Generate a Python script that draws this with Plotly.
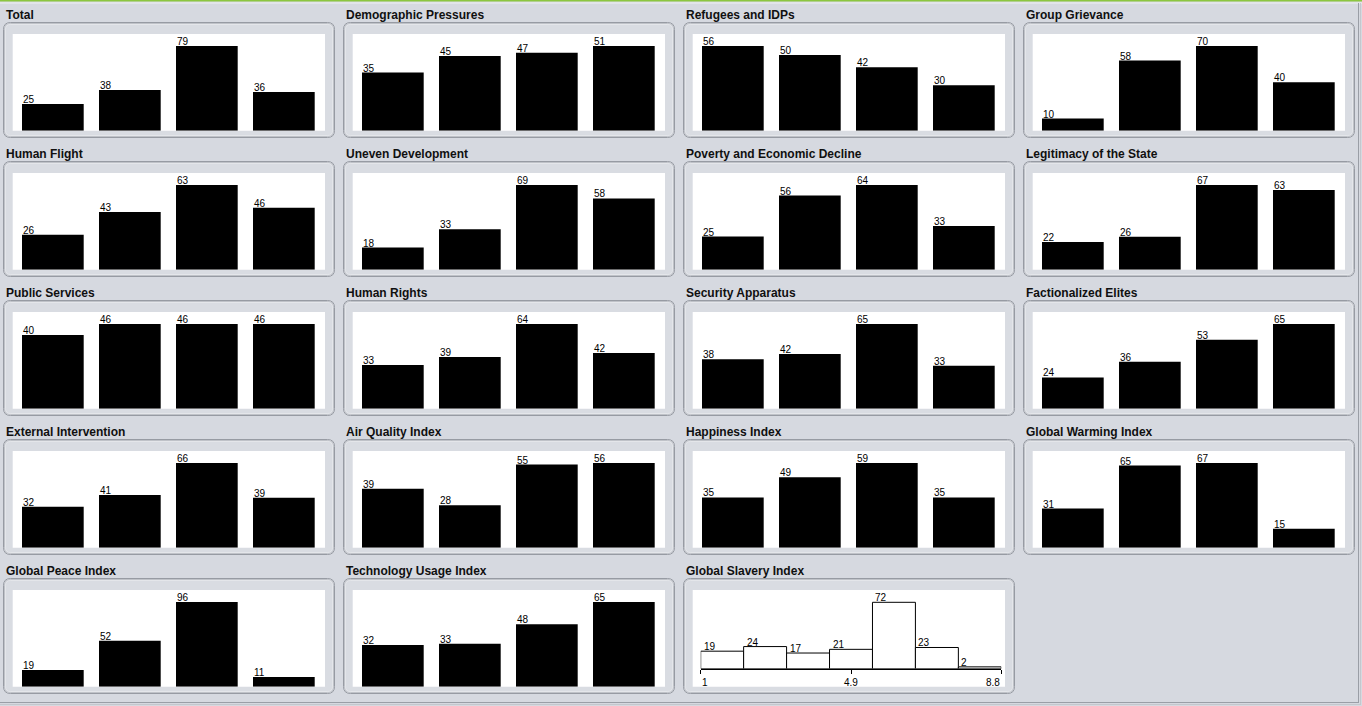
import plotly.graph_objects as go

W, H = 1362, 706

# ---------------- data ----------------
categories = ["A", "B", "C", "D"]
total = [25, 38, 79, 36]
demographic_pressures = [35, 45, 47, 51]
refugees_idps = [56, 50, 42, 30]
group_grievance = [10, 58, 70, 40]
human_flight = [26, 43, 63, 46]
uneven_development = [18, 33, 69, 58]
poverty_decline = [25, 56, 64, 33]
legitimacy_state = [22, 26, 67, 63]
public_services = [40, 46, 46, 46]
human_rights = [33, 39, 64, 42]
security_apparatus = [38, 42, 65, 33]
factionalized_elites = [24, 36, 53, 65]
external_intervention = [32, 41, 66, 39]
air_quality = [39, 28, 55, 56]
happiness = [35, 49, 59, 35]
global_warming = [31, 65, 67, 15]
global_peace = [19, 52, 96, 11]
technology_usage = [32, 33, 48, 65]

bar_titles = ["Total", "Demographic Pressures", "Refugees and IDPs", "Group Grievance",
              "Human Flight", "Uneven Development", "Poverty and Economic Decline",
              "Legitimacy of the State", "Public Services", "Human Rights",
              "Security Apparatus", "Factionalized Elites", "External Intervention",
              "Air Quality Index", "Happiness Index", "Global Warming Index",
              "Global Peace Index", "Technology Usage Index"]
bar_values = [total, demographic_pressures, refugees_idps, group_grievance,
              human_flight, uneven_development, poverty_decline, legitimacy_state,
              public_services, human_rights, security_apparatus, factionalized_elites,
              external_intervention, air_quality, happiness, global_warming,
              global_peace, technology_usage]

hist_title = "Global Slavery Index"
hist_counts = [19, 24, 17, 21, 72, 23, 2]
hist_start, hist_end = 1.0, 8.8
hist_ticks = [1, 4.9, 8.8]
hist_ticktext = ["1", "4.9", "8.8"]

# ---------------- styling ----------------
BG = "#d6d9e0"
NUM_FONT = dict(family="Liberation Sans, Arial, sans-serif", size=10, color="#000000")
TITLE_FONT = dict(family="Liberation Sans, Arial, sans-serif", size=12, color="#101010")


def px(x):
    return x / W


def py(y):
    return 1 - y / H


def rrect_path(x0, y0, x1, y1, r):
    pts = [
        f"M {px(x0 + r)},{py(y0)}",
        f"L {px(x1 - r)},{py(y0)}",
        f"Q {px(x1)},{py(y0)} {px(x1)},{py(y0 + r)}",
        f"L {px(x1)},{py(y1 - r)}",
        f"Q {px(x1)},{py(y1)} {px(x1 - r)},{py(y1)}",
        f"L {px(x0 + r)},{py(y1)}",
        f"Q {px(x0)},{py(y1)} {px(x0)},{py(y1 - r)}",
        f"L {px(x0)},{py(y0 + r)}",
        f"Q {px(x0)},{py(y0)} {px(x0 + r)},{py(y0)}",
        "Z",
    ]
    return " ".join(pts)


fig = go.Figure()
layout = dict(
    width=W, height=H, margin=dict(l=0, r=0, t=0, b=0),
    paper_bgcolor=BG, plot_bgcolor="rgba(0,0,0,0)",
    showlegend=False, shapes=[], annotations=[],
)

BAR_W = 61.7 / 77.0
X_RANGE = [-40.15 / 77.0, -40.15 / 77.0 + 312.3 / 77.0]


def panel_geom(idx):
    r, c = divmod(idx, 4)
    bx0 = 3 + 340 * c
    by0 = 22 + 139 * r
    return r, c, bx0, by0


all_panels = len(bar_titles) + 1
for idx in range(all_panels):
    r, c, bx0, by0 = panel_geom(idx)
    # frame
    layout["shapes"].append(dict(type="path", xref="paper", yref="paper",
                                 path=rrect_path(bx0 + 0.5, by0 + 0.5, bx0 + 331.5, by0 + 115.5, 7),
                                 line=dict(color="#979ba3", width=1), fillcolor="#d9dce2", layer="below"))
    layout["shapes"].append(dict(type="path", xref="paper", yref="paper",
                                 path=rrect_path(bx0 + 1.5, by0 + 1.5, bx0 + 330.5, by0 + 114.5, 6),
                                 line=dict(color="#bfc2c8", width=1), fillcolor="rgba(0,0,0,0)", layer="below"))
    layout["shapes"].append(dict(type="path", xref="paper", yref="paper",
                                 path=rrect_path(bx0 + 2.5, by0 + 2.5, bx0 + 329.5, by0 + 113.5, 5),
                                 line=dict(color="#e4e6ea", width=1), fillcolor="rgba(0,0,0,0)", layer="below"))
    # white area
    layout["shapes"].append(dict(type="rect", xref="paper", yref="paper",
                                 x0=px(bx0 + 9.7), x1=px(bx0 + 322), y0=py(by0 + 108.7), y1=py(by0 + 12),
                                 line=dict(width=0), fillcolor="#ffffff", layer="below"))
    title = bar_titles[idx] if idx < len(bar_titles) else hist_title
    layout["annotations"].append(dict(text=f"<b>{title}</b>", xref="paper", yref="paper",
                                      x=px(340 * c + 5), y=py(14.5 + 139 * r),
                                      xanchor="left", yanchor="middle", showarrow=False,
                                      font=TITLE_FONT, borderpad=0))

for idx, (title, vals) in enumerate(zip(bar_titles, bar_values)):
    r, c, bx0, by0 = panel_geom(idx)
    n = idx + 1
    xa = "xaxis" if n == 1 else f"xaxis{n}"
    ya = "yaxis" if n == 1 else f"yaxis{n}"
    xr = "x" if n == 1 else f"x{n}"
    yr = "y" if n == 1 else f"y{n}"
    xpos = list(range(len(vals)))
    fig.add_trace(go.Bar(x=xpos, y=vals, width=BAR_W, xaxis=xr, yaxis=yr,
                         marker=dict(color="#000000", line=dict(width=0)),
                         hoverinfo="skip"))
    top = max(vals) * 96.7 / 84.7
    layout[xa] = dict(domain=[px(bx0 + 9.7), px(bx0 + 322)], range=X_RANGE, anchor=yr,
                      visible=False, fixedrange=True)
    layout[ya] = dict(domain=[py(by0 + 108.7), py(by0 + 12)], range=[0, top], anchor=xr,
                      visible=False, fixedrange=True)
    for i, v in enumerate(vals):
        layout["annotations"].append(dict(text=str(v), xref=xr, yref=yr,
                                          x=i - BAR_W / 2, y=v, xanchor="left", yanchor="bottom",
                                          showarrow=False, font=NUM_FONT, borderpad=0,
                                          xshift=0, yshift=-2))

# histogram panel
idx = len(bar_titles)
r, c, bx0, by0 = panel_geom(idx)
n = idx + 1
xr, yr = f"x{n}", f"y{n}"
nb = len(hist_counts)
bw = (hist_end - hist_start) / nb
centers = [hist_start + bw * (i + 0.5) for i in range(nb)]
fig.add_trace(go.Bar(x=centers, y=hist_counts, width=bw, xaxis=xr, yaxis=yr,
                     marker=dict(color="#ffffff", line=dict(color="#000000", width=1)),
                     hoverinfo="skip"))
axis_y_px = 668.7
layout[f"xaxis{n}"] = dict(domain=[px(700.7), px(1001.3)], range=[hist_start, hist_end], anchor=yr,
                           showgrid=False, zeroline=False, showline=True, linecolor="#000000",
                           linewidth=1, ticks="outside", ticklen=4, tickcolor="#000000",
                           tickvals=hist_ticks, showticklabels=False, fixedrange=True)
top = max(hist_counts) * (axis_y_px - 590) / 66.4
layout[f"yaxis{n}"] = dict(domain=[py(axis_y_px), py(590)], range=[0, top], anchor=xr,
                           visible=False, fixedrange=True)
for i, v in enumerate(hist_counts):
    layout["annotations"].append(dict(text=str(v), xref=xr, yref=yr,
                                      x=hist_start + bw * i, y=v, xanchor="left", yanchor="bottom",
                                      showarrow=False, font=NUM_FONT, borderpad=0,
                                      xshift=2, yshift=-2))
anchors = ["left", "center", "right"]
for tv, tt, an in zip(hist_ticks, hist_ticktext, anchors):
    layout["annotations"].append(dict(text=tt, xref=xr, yref="paper", x=tv, y=py(689),
                                      xanchor=an, yanchor="bottom", showarrow=False,
                                      font=NUM_FONT, borderpad=0))

# window chrome lines
layout["shapes"].append(dict(type="rect", xref="paper", yref="paper", x0=0, x1=1,
                             y0=py(1.5), y1=1, line=dict(width=0), fillcolor="#8cc63f", layer="below"))
layout["shapes"].append(dict(type="line", xref="paper", yref="paper", x0=0, x1=1,
                             y0=py(3), y1=py(3), line=dict(color="#eef0f3", width=1), layer="below"))
layout["shapes"].append(dict(type="line", xref="paper", yref="paper", x0=px(1358.5), x1=px(1358.5),
                             y0=py(703), y1=py(3), line=dict(color="#9a9ea6", width=1), layer="below"))
layout["shapes"].append(dict(type="line", xref="paper", yref="paper", x0=0, x1=px(1358.5),
                             y0=py(702.5), y1=py(702.5), line=dict(color="#9a9ea6", width=1), layer="below"))
layout["shapes"].append(dict(type="line", xref="paper", yref="paper", x0=px(1360.5), x1=px(1360.5),
                             y0=py(705), y1=py(3), line=dict(color="#c4c7cd", width=1), layer="below"))
layout["shapes"].append(dict(type="line", xref="paper", yref="paper", x0=0, x1=px(1360.5),
                             y0=py(704.5), y1=py(704.5), line=dict(color="#c4c7cd", width=1), layer="below"))

fig.update_layout(**layout)
fig.write_html("out.html", config={"displayModeBar": False})
